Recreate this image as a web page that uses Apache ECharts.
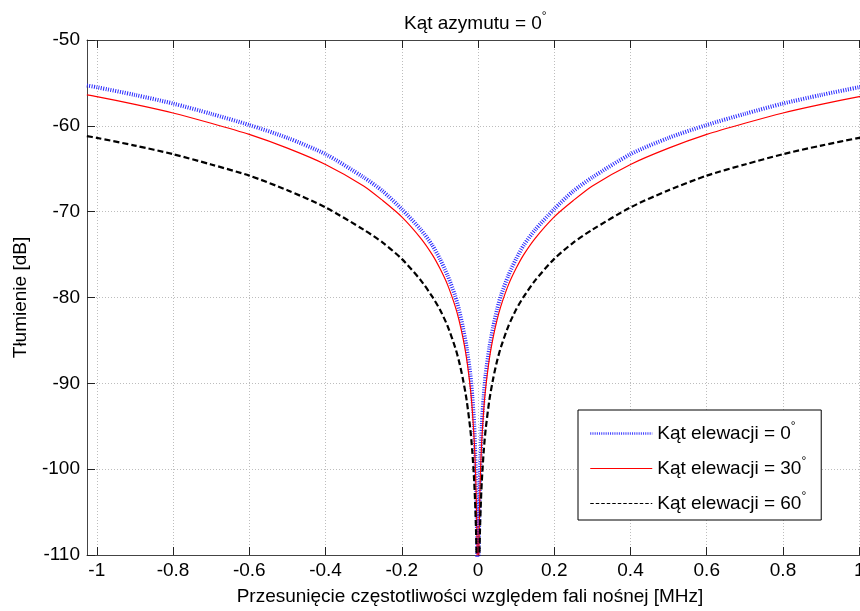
<!DOCTYPE html>
<html>
<head>
<meta charset="utf-8">
<script src="https://cdn.jsdelivr.net/npm/echarts@6/dist/echarts.min.js"></script>
<style>html,body{margin:0;padding:0;background:#fff;overflow:hidden}#c{width:869px;height:611px}</style>
</head>
<body>
<div id="c"></div>
<script>
// Frequency offset [MHz]
var freq = [-1.026, -1.0, -0.9, -0.8, -0.7, -0.6, -0.5, -0.4, -0.3, -0.25, -0.2, -0.15, -0.12, -0.1, -0.08, -0.06, -0.05, -0.04, -0.03, -0.02, -0.015, -0.01, -0.007, -0.005, -0.003, -0.002, -0.001,
            0.001, 0.002, 0.003, 0.005, 0.007, 0.01, 0.015, 0.02, 0.03, 0.04, 0.05, 0.06, 0.08, 0.1, 0.12, 0.15, 0.2, 0.25, 0.3, 0.4, 0.5, 0.6, 0.7, 0.8, 0.9, 1.0, 1.026];
// Attenuation [dB], elevation 0 deg
var elev0 = [-55.3, -55.5, -56.4, -57.4, -58.6, -59.9, -61.4, -63.3, -66.0, -67.6, -69.7, -72.1, -73.9, -75.5, -77.4, -79.8, -81.4, -83.4, -85.8, -89.0, -91.5, -94.8, -98.6, -101.5, -106.0, -109.5, -115.5,
             -115.5, -109.5, -106.0, -101.5, -98.6, -94.8, -91.5, -89.0, -85.8, -83.4, -81.4, -79.8, -77.4, -75.5, -73.9, -72.1, -69.7, -67.6, -66.0, -63.3, -61.4, -59.9, -58.6, -57.4, -56.4, -55.5, -55.3];
// Attenuation [dB], elevation 30 deg
var elev30 = [-56.4, -56.6, -57.5, -58.5, -59.7, -61.0, -62.6, -64.5, -67.0, -68.7, -70.6, -73.1, -75.0, -76.6, -78.5, -81.0, -82.6, -84.6, -87.1, -90.6, -93.1, -96.6, -99.7, -102.6, -107.1, -110.6, -116.6,
              -116.6, -110.6, -107.1, -102.6, -99.7, -96.6, -93.1, -90.6, -87.1, -84.6, -82.6, -81.0, -78.5, -76.6, -75.0, -73.1, -70.6, -68.7, -67.0, -64.5, -62.6, -61.0, -59.7, -58.5, -57.5, -56.6, -56.4];
// Attenuation [dB], elevation 60 deg
var elev60 = [-61.2, -61.4, -62.3, -63.3, -64.5, -65.8, -67.5, -69.5, -72.1, -73.6, -75.5, -78.0, -79.9, -81.4, -83.3, -85.8, -87.4, -89.4, -91.9, -95.4, -97.9, -101.4, -104.5, -107.4, -111.9, -115.4, -121.4,
              -121.4, -115.4, -111.9, -107.4, -104.5, -101.4, -97.9, -95.4, -91.9, -89.4, -87.4, -85.8, -83.3, -81.4, -79.9, -78.0, -75.5, -73.6, -72.1, -69.5, -67.5, -65.8, -64.5, -63.3, -62.3, -61.4, -61.2];
var xTicks = [-1, -0.8, -0.6, -0.4, -0.2, 0, 0.2, 0.4, 0.6, 0.8, 1];
var xTickLabels = ['-1', '-0.8', '-0.6', '-0.4', '-0.2', '0', '0.2', '0.4', '0.6', '0.8', '1'];
var seriesNames = ['Kąt elewacji = 0', 'Kąt elewacji = 30', 'Kąt elewacji = 60'];

var FONT = 'Liberation Sans, Arial, Helvetica, sans-serif';
function pairs(ys) { return freq.map(function (x, i) { return [x, ys[i]]; }); }
function xLabel(v) {
  for (var i = 0; i < xTicks.length; i++) if (Math.abs(xTicks[i] - v) < 1e-6) return xTickLabels[i];
  return '';
}
var axisLineStyle = { color: '#444', width: 1 };
var tickStyle = { color: '#222', width: 1 };
var gridLine = { show: true, lineStyle: { color: '#bdbdbd', width: 1, type: [1, 2] } };
var noSym = { color: 'rgba(0,0,0,0)', borderWidth: 0, opacity: 0 };

var chart = echarts.init(document.getElementById('c'), null, { renderer: 'canvas' });
chart.setOption({
  animation: false,
  backgroundColor: '#fff',
  textStyle: { fontFamily: FONT },
  title: {
    text: 'Kąt azymutu = 0{s|°}',
    left: 404, top: 11, padding: 0,
    textStyle: { fontFamily: FONT, fontSize: 19, fontWeight: 'normal', color: '#000', lineHeight: 26,
      rich: { s: { fontFamily: FONT, fontSize: 12, verticalAlign: 'top', lineHeight: 12, color: '#000' } } }
  },
  grid: { left: 87, right: 0, top: 40, bottom: 56, containLabel: false },
  legend: {
    orient: 'vertical', left: 578, top: 410,
    backgroundColor: '#fff', borderColor: '#000', borderWidth: 1, borderRadius: 0,
    padding: [11, 15, 4, 11], itemGap: 10, itemWidth: 62, itemHeight: 14,
    itemStyle: noSym,
    data: [
      { name: seriesNames[0], itemStyle: noSym, lineStyle: { color: '#3a3aff', width: 2.5, type: [1, 1.2] } },
      { name: seriesNames[1], itemStyle: noSym, lineStyle: { color: '#ff0000', width: 1, type: 'solid' } },
      { name: seriesNames[2], itemStyle: noSym, lineStyle: { color: '#000', width: 1.2, type: [3.5, 2] } }
    ],
    formatter: function (n) { return n + '{s|°}'; },
    textStyle: { fontFamily: FONT, fontSize: 19, color: '#000', lineHeight: 25, padding: [0, 0, 0, 0],
      rich: { s: { fontFamily: FONT, fontSize: 12, verticalAlign: 'top', lineHeight: 12, color: '#000' } } }
  },
  xAxis: [{
    type: 'value', position: 'bottom', min: -1.0256, max: 1.0256,
    name: 'Przesunięcie częstotliwości względem fali nośnej [MHz]',
    nameLocation: 'middle', nameGap: 32,
    nameTextStyle: { fontFamily: FONT, fontSize: 19, color: '#000', padding: [0, 16, 0, 0] },
    axisLine: { show: true, onZero: false, lineStyle: axisLineStyle },
    axisTick: { show: true, inside: true, length: 8, customValues: xTicks, lineStyle: tickStyle },
    axisLabel: { show: true, customValues: xTicks, formatter: xLabel, margin: 6, fontFamily: FONT, fontSize: 19, color: '#000' },
    splitLine: gridLine
  }, {
    type: 'value', position: 'top', min: -1.0256, max: 1.0256,
    axisLine: { show: true, onZero: false, lineStyle: axisLineStyle },
    axisTick: { show: true, inside: true, length: 8, customValues: xTicks, lineStyle: tickStyle },
    axisLabel: { show: false },
    splitLine: { show: false }
  }],
  yAxis: [{
    type: 'value', position: 'left', min: -110, max: -50, interval: 10,
    name: 'Tłumienie [dB]', nameLocation: 'middle', nameGap: 57,
    nameTextStyle: { fontFamily: FONT, fontSize: 19, color: '#000' },
    axisLine: { show: true, onZero: false, lineStyle: axisLineStyle },
    axisTick: { show: true, inside: true, length: 8, lineStyle: tickStyle },
    axisLabel: { show: true, margin: 7, fontFamily: FONT, fontSize: 19, color: '#000' },
    splitLine: gridLine
  }, {
    type: 'value', position: 'right', min: -110, max: -50, interval: 10,
    axisLine: { show: true, onZero: false, lineStyle: axisLineStyle },
    axisTick: { show: true, inside: true, length: 8, lineStyle: tickStyle },
    axisLabel: { show: false },
    splitLine: { show: false }
  }],
  series: [{
    name: seriesNames[0], type: 'line', data: pairs(elev0), symbol: 'none', clip: true, smooth: 0.25,
    color: '#1f1fff',
    lineStyle: { color: '#2a2aff', width: 4, type: [1, 1.4] }
  }, {
    name: seriesNames[1], type: 'line', data: pairs(elev30), symbol: 'none', clip: true, smooth: 0.25,
    color: '#ff0000',
    lineStyle: { color: '#ff0000', width: 1.2, type: 'solid' }
  }, {
    name: seriesNames[2], type: 'line', data: pairs(elev60), symbol: 'none', clip: true, smooth: 0.25,
    color: '#000',
    lineStyle: { color: '#000', width: 2.2, type: [6, 3] }
  }]
});
</script>
</body>
</html>
